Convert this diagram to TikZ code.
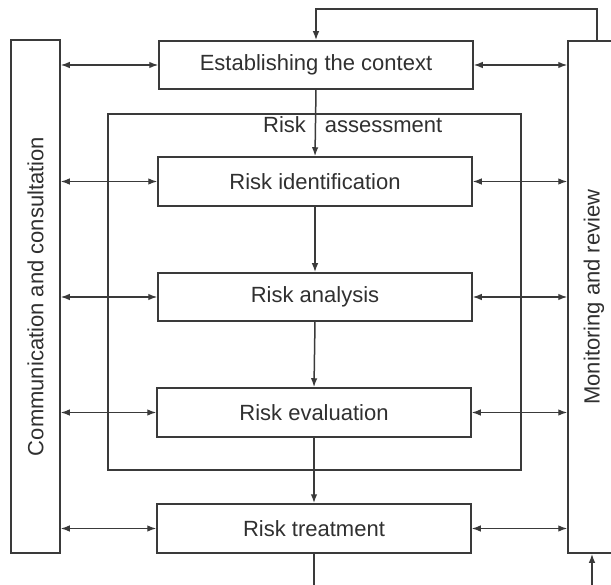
\documentclass[tikz,border=0pt]{standalone}
\usepackage{fontspec}
\setmainfont{Liberation Sans}
\usetikzlibrary{arrows.meta}
\definecolor{ink}{HTML}{3A3A3A}
\definecolor{txt}{HTML}{303030}
\begin{document}
\begin{tikzpicture}[x=1pt,y=-1pt,
  tip/.tip={Latex[length=9pt,width=6.5pt]},
  stepbox/.style={draw=ink, line width=1.5pt, minimum width=314pt, minimum height=48pt,
    inner sep=0pt, text=txt, font=\fontsize{22}{26}\selectfont},
  sidebox/.style={draw=ink, line width=1.5pt, inner sep=0pt, text=txt,
    font=\fontsize{22}{26}\selectfont},
  frame/.style={draw=ink, line width=1.5pt, inner sep=0pt},
  flow/.style={draw=ink, line width=1.5pt, -tip},
  link/.style={draw=ink, line width=1.3pt, tip-tip},
  lbl/.style={text=txt, font=\fontsize{22}{26}\selectfont, inner sep=0pt}
]
\useasboundingbox (0,0) rectangle (611,585);
\clip (0,0) rectangle (611,585);
\fill[white] (0,0) rectangle (611,585);

% side boxes
\node[sidebox, minimum width=49pt, minimum height=513pt] (comm) at (35.5,296.5) {};
\node[lbl, rotate=90] (commtxt) at (comm.center) {Communication and consultation};
\node[sidebox, minimum width=56pt, minimum height=512pt] (mon) at (596,297) {};
\node[lbl, rotate=90] (montxt) at ([xshift=-2pt]mon.center) {Monitoring and review};

% risk assessment frame
\node[frame, minimum width=413pt, minimum height=356pt] (ra) at (314.5,292) {};
\node[lbl, anchor=base west] (ratxt) at (263,133) {Risk\hspace{19pt}assessment};

% steps
\node[stepbox] (est) at (316,65) {Establishing the context};
\node[stepbox, minimum height=49pt] (ide) at (315,181.5) {Risk identification};
\node[stepbox] (ana) at (315,297) {Risk analysis};
\node[stepbox, minimum height=49pt] (eva) at (314,412.5) {Risk evaluation};
\node[stepbox, minimum height=49pt] (trt) at (314,528.5) {Risk treatment};

% main flow
\draw[flow] (est.south) -- (ide.north);
\draw[flow] (ide.south) -- (ana.north);
\draw[flow] (ana.south) -- (eva.north);
\draw[flow] (eva.south) -- (trt.north);

% communication and monitoring links
\foreach \s in {est,ide,ana,eva,trt}{
  \draw[link] (comm.east |- \s.west) -- (\s.west);
  \draw[link] (\s.east) -- (mon.west |- \s.east);
}

% feedback loops
\coordinate (topy) at (0,9);
\coordinate (boty) at (0,600);
\coordinate (monin) at ([xshift=1pt]mon.north);
\coordinate (monbot) at ([xshift=-4pt]mon.south);
\draw[flow] (monin) -- (monin |- topy) -| (est.north);
\draw[flow] (trt.south) -- (trt.south |- boty) -| (monbot);
\end{tikzpicture}
\end{document}
